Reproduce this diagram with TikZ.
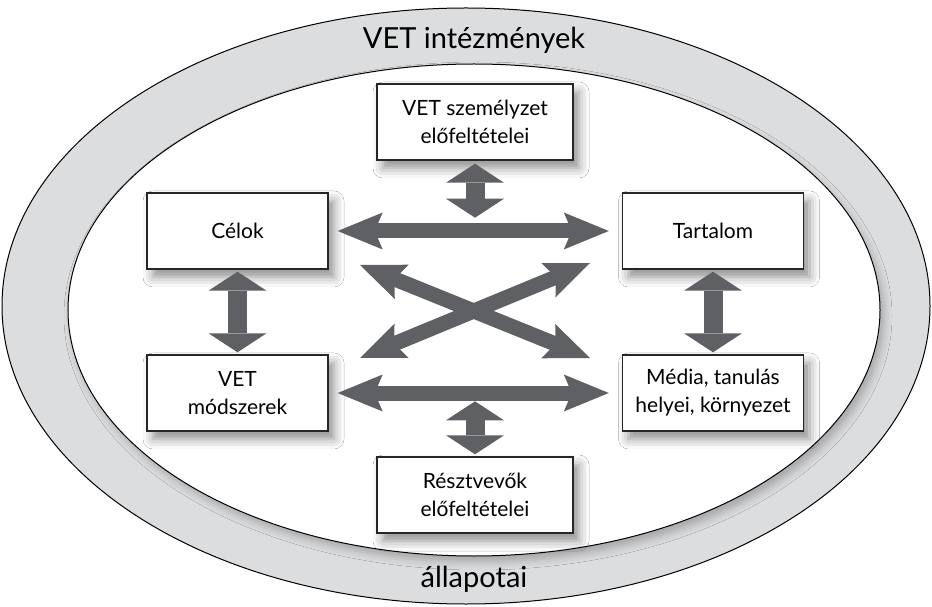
\documentclass[tikz,border=0pt]{standalone}
\usepackage{fontspec}
\setmainfont{Lato}
\usetikzlibrary{arrows.meta,shadows.blur}
\definecolor{ringgrey}{HTML}{DCDDDF}
\definecolor{arrowgrey}{HTML}{5F6064}

\begin{document}
\begin{tikzpicture}[x=0.5pt,y=0.5pt,
    box/.style={draw=black!85, fill=white, line width=0.7pt,
        minimum width=90.5pt, minimum height=38pt, align=center,
        font=\fontsize{10.5}{14}\selectfont,
        blur shadow={shadow xshift=3pt, shadow yshift=-4pt, shadow blur radius=5pt, shadow opacity=45}},
    widebox/.style={box, minimum width=98pt},
    longarrow/.style={draw=arrowgrey, line width=7.5pt,
        arrows={Stealth[length=22.5pt,width=18.5pt,inset=4pt,line width=0pt]-Stealth[length=22.5pt,width=18.5pt,inset=4pt,line width=0pt]}},
    stubarrow/.style={draw=arrowgrey, line width=9.5pt,
        arrows={Triangle[length=9.5pt,width=29pt,line width=0pt]-Triangle[length=9.5pt,width=29pt,line width=0pt]}},
    ringtext/.style={font=\fontsize{14.5}{17}\selectfont}]
    \useasboundingbox (0,0) rectangle (932,606);

    % Ring and inner field
    \draw[fill=ringgrey, line width=0.5pt] (466,300) ellipse (464 and 298);
    \draw[fill=white, line width=0.5pt,
        blur shadow={shadow xshift=2pt, shadow yshift=-3pt, shadow blur radius=4pt, shadow opacity=25}]
        (474,296) ellipse (406 and 246);
    \node[ringtext] (intezmeny) at (474,566) {VET intézmények};
    \node[ringtext] (allapot) at (474,27) {állapotai};

    % Boxes
    \node[widebox] (szemely) at (475,484) {VET személyzet\\előfeltételei};
    \node[box] (celok) at (237.5,375) {Célok};
    \node[box] (tartalom) at (713,375) {Tartalom};
    \node[box] (modszer) at (237.5,213) {VET\\módszerek};
    \node[box] (media) at (713,213) {Média, tanulás\\helyei, környezet};
    \node[widebox] (resztvevo) at (475,111) {Résztvevők\\előfeltételei};

    % Arrows
    \draw[longarrow, shorten <=4.5pt, shorten >=6.5pt] (celok.east) -- (tartalom.west);
    \draw[longarrow, shorten <=4.5pt, shorten >=6.5pt] (modszer.east) -- (media.west);
    \coordinate (xnw) at (360,341);
    \coordinate (xse) at (590,248);
    \coordinate (xsw) at (360,248);
    \coordinate (xne) at (590,343);
    \draw[longarrow] (xnw) -- (xse);
    \draw[longarrow] (xsw) -- (xne);
    \draw[stubarrow, shorten <=1pt, shorten >=1pt] (celok.south) -- (modszer.north);
    \draw[stubarrow, shorten <=1pt, shorten >=1pt] (tartalom.south) -- (media.north);
    \draw[stubarrow, shorten <=1.5pt] (szemely.south) -- ++(0,-57);
    \draw[stubarrow, shorten <=1pt] (resztvevo.north) -- ++(0,55);
\end{tikzpicture}
\end{document}
